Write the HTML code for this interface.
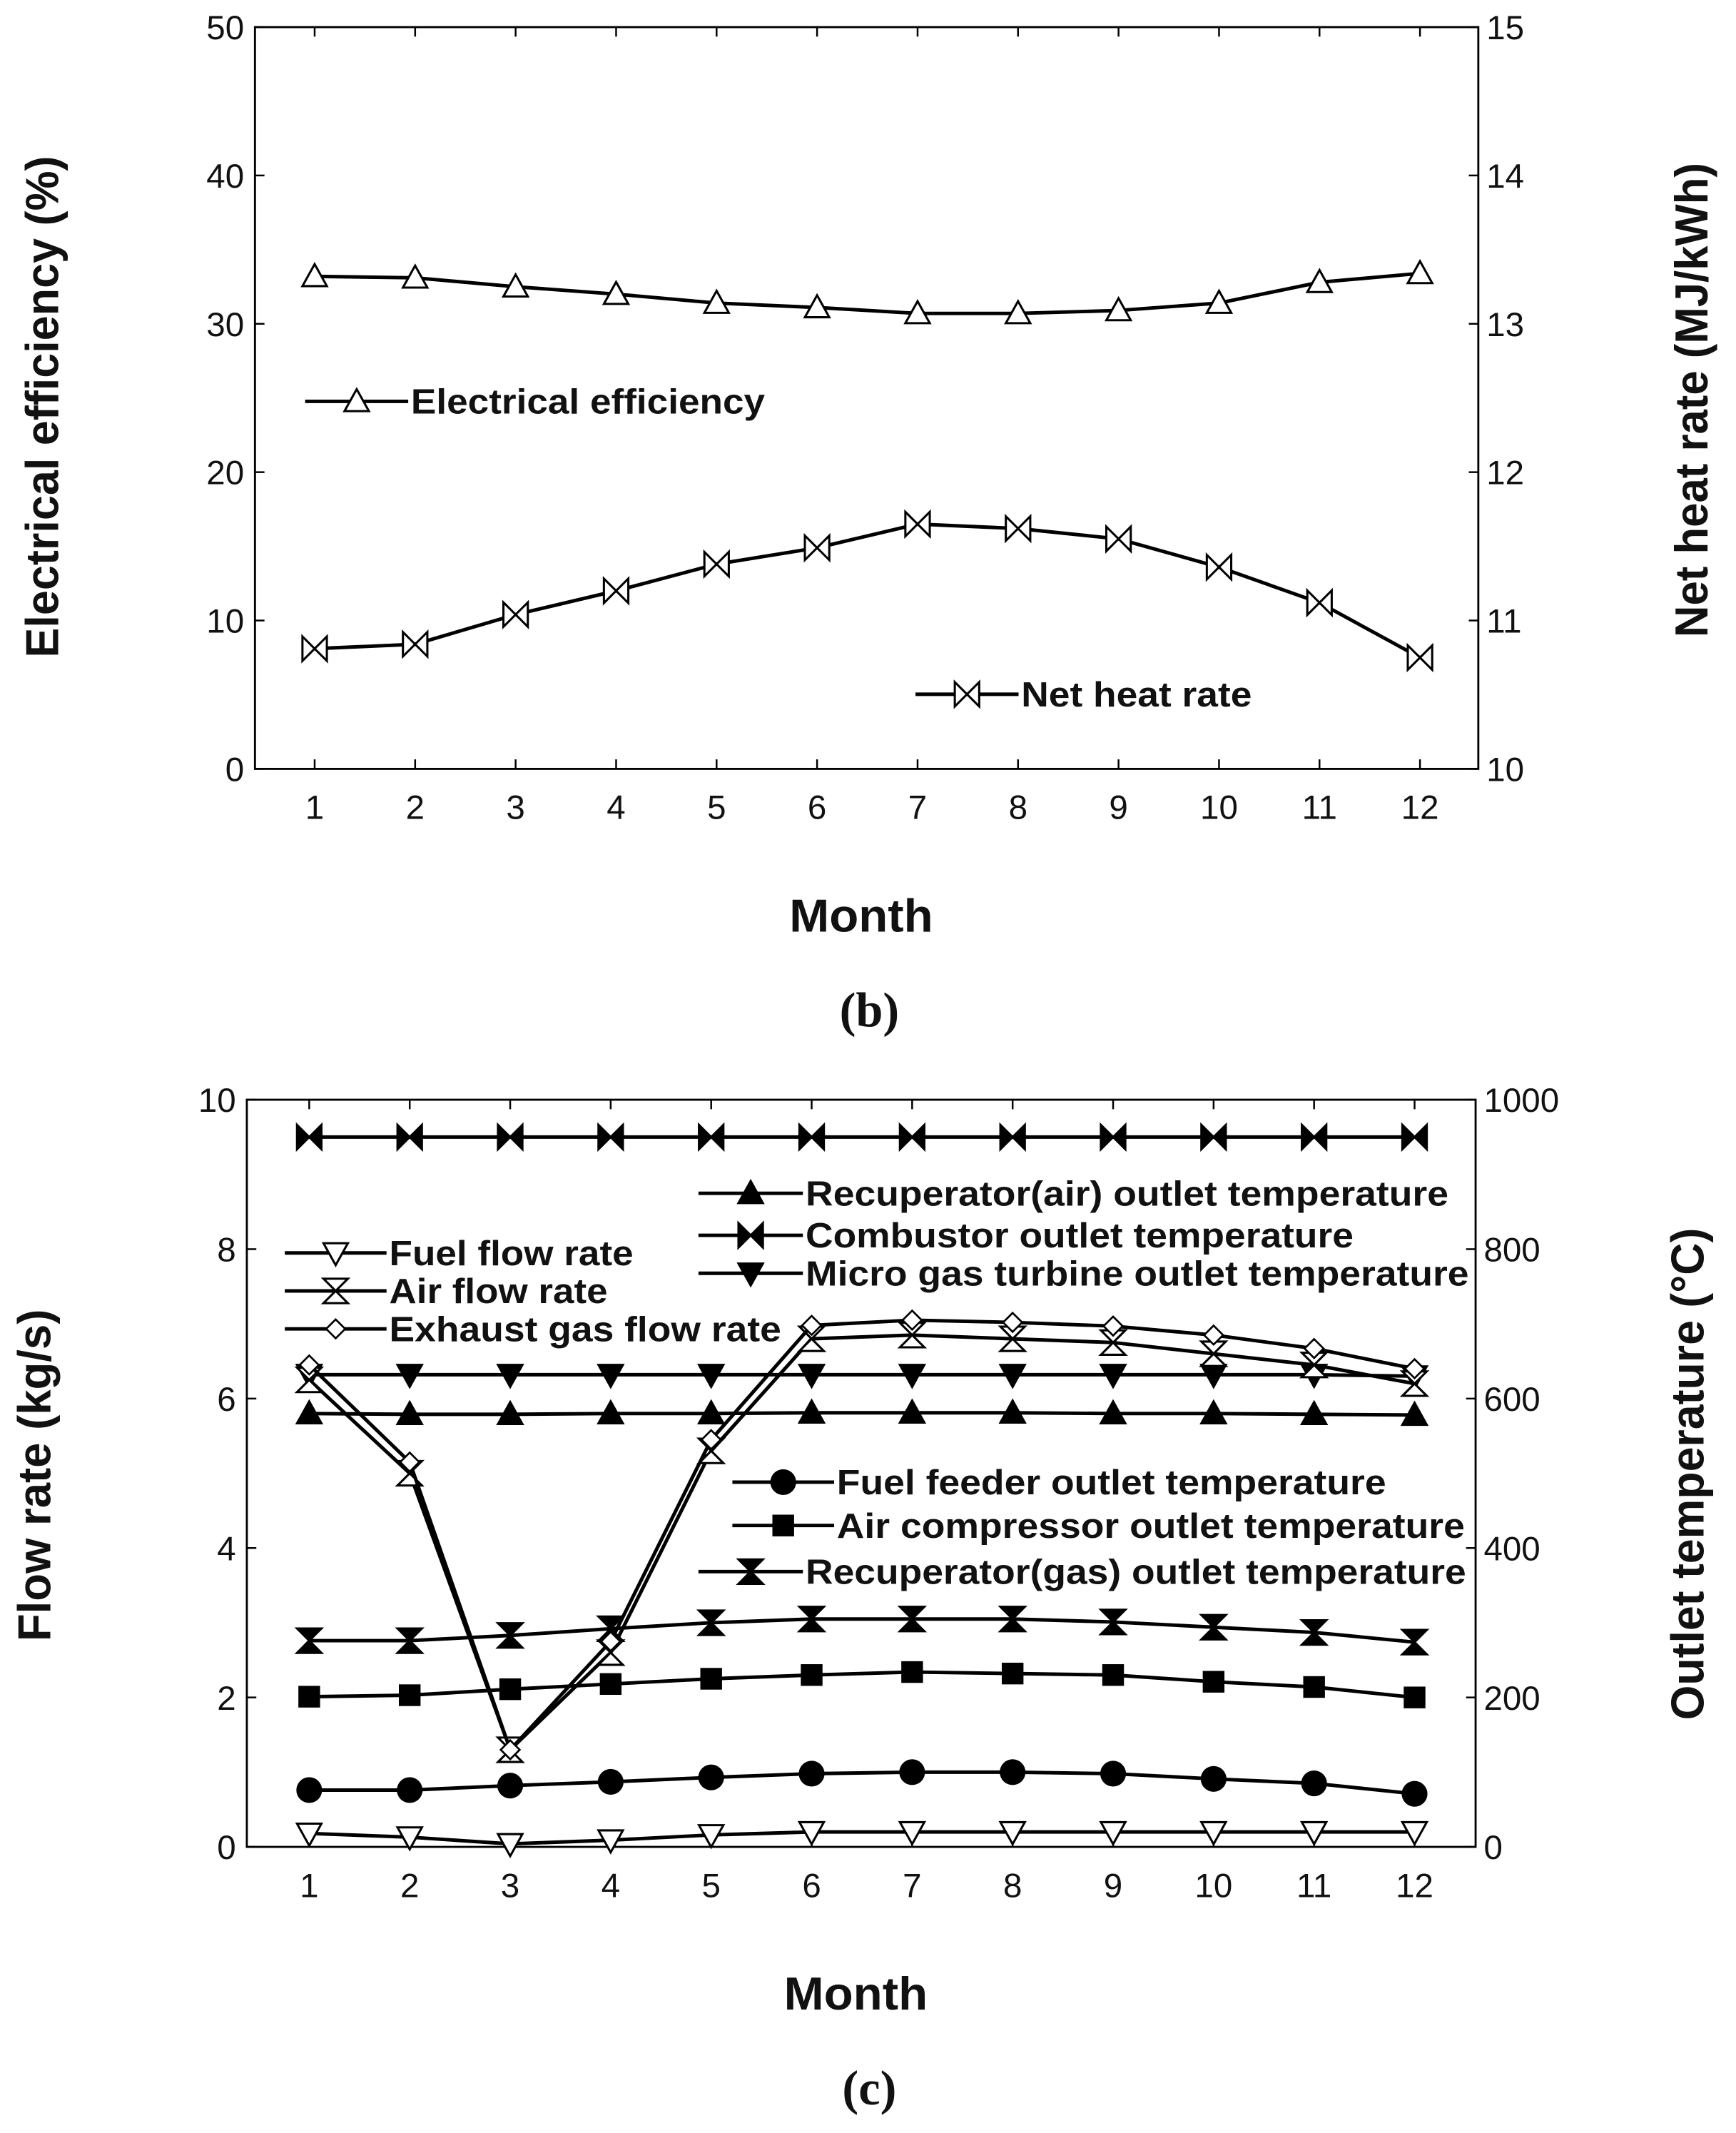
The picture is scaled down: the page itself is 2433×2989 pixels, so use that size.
<!DOCTYPE html>
<html><head><meta charset="utf-8"><style>
html,body{margin:0;padding:0;background:#fff}
svg{display:block}
text{font-family:"Liberation Sans",sans-serif;fill:#111}
</style></head><body>
<svg id="chart" width="2433" height="2989" viewBox="0 0 1280 1573" preserveAspectRatio="none" xmlns="http://www.w3.org/2000/svg"></svg>
<script>
const months=[1,2,3,4,5,6,7,8,9,10,11,12];
const effVals=[33.2,33.1,32.5,32.0,31.4,31.1,30.7,30.7,30.9,31.4,32.8,33.4];
const heatVals=[10.81,10.84,11.04,11.20,11.38,11.49,11.65,11.62,11.55,11.36,11.12,10.75];
const fuelFlow=[0.18,0.13,0.04,0.09,0.16,0.2,0.2,0.2,0.2,0.2,0.2,0.2];
const airFlow=[6.25,5.0,1.3,2.6,5.3,6.8,6.85,6.8,6.75,6.6,6.45,6.2];
const exhaustFlow=[6.45,5.15,1.3,2.75,5.45,6.98,7.05,7.02,6.97,6.85,6.67,6.4];
const combustorT=[950,950,950,950,950,950,950,950,950,950,950,950];
const recupAirT=[580,579,579,580,580,581,581,581,580,580,579,578];
const mgtT=[632,632,632,632,632,632,632,632,632,632,632,630];
const recupGasT=[276,276,283,292,300,305,305,305,301,294,287,274];
const compT=[201,203,211,218,225,230,234,232,230,221,214,200];
const feederT=[76,76,82,87,93,98,100,100,98,91,85,71];
const leftTicksB=[0,10,20,30,40,50];
const rightTicksB=[10,11,12,13,14,15];
const leftTicksC=[0,2,4,6,8,10];
const rightTicksC=[0,200,400,600,800,1000];

const svg=document.getElementById('chart');
const NS='http://www.w3.org/2000/svg';
function el(tag,attrs,parent){const e=document.createElementNS(NS,tag);for(const k in attrs)e.setAttribute(k,attrs[k]);(parent||svg).appendChild(e);return e;}
function txt(s,x,y,attrs,parent){const e=el('text',Object.assign({x:x,y:y},attrs),parent);e.textContent=s;return e;}

function marker(g,type,x,y){
  const s=9;const st={stroke:'#000','stroke-width':1.6};
  if(type==='tri'){el('polygon',Object.assign({points:`${x},${y-s} ${x-s},${y+s*0.8} ${x+s},${y+s*0.8}`,fill:'#fff'},st),g);}
  else if(type==='triF'){el('polygon',Object.assign({points:`${x},${y-s} ${x-s},${y+s*0.8} ${x+s},${y+s*0.8}`,fill:'#000'},st),g);}
  else if(type==='dtri'){el('polygon',Object.assign({points:`${x},${y+s} ${x-s},${y-s*0.8} ${x+s},${y-s*0.8}`,fill:'#fff'},st),g);}
  else if(type==='dtriF'){el('polygon',Object.assign({points:`${x},${y+s} ${x-s},${y-s*0.8} ${x+s},${y-s*0.8}`,fill:'#000'},st),g);}
  else if(type==='bowX'){el('polygon',Object.assign({points:`${x-s},${y-s} ${x+s},${y+s} ${x+s},${y-s} ${x-s},${y+s}`,fill:'#fff'},st),g);}
  else if(type==='bowF'){el('polygon',Object.assign({points:`${x-s},${y-s} ${x},${y} ${x-s},${y+s}`,fill:'#000'},st),g);el('polygon',Object.assign({points:`${x+s},${y-s} ${x},${y} ${x+s},${y+s}`,fill:'#000'},st),g);}
  else if(type==='hourO'){el('polygon',Object.assign({points:`${x-s},${y-s} ${x+s},${y-s} ${x-s},${y+s} ${x+s},${y+s}`,fill:'#fff'},st),g);}
  else if(type==='hourF'){el('polygon',Object.assign({points:`${x-s},${y-s} ${x+s},${y-s} ${x},${y}`,fill:'#000'},st),g);el('polygon',Object.assign({points:`${x-s},${y+s} ${x+s},${y+s} ${x},${y}`,fill:'#000'},st),g);}
  else if(type==='dia'){el('polygon',Object.assign({points:`${x},${y-7} ${x+7},${y} ${x},${y+7} ${x-7},${y}`,fill:'#fff','stroke-width':1.4,stroke:'#000'}),g);}
  else if(type==='circF'){el('circle',{cx:x,cy:y,r:9.5,fill:'#000'},g);}
  else if(type==='sqF'){el('rect',{x:x-8,y:y-8,width:16,height:16,fill:'#000'},g);}
}
function series(name,vals,xf,yf,type){
  const g=el('g',{});
  
  
  el('polyline',{points:vals.map((v,i)=>xf(months[i])+','+yf(v)).join(' '),fill:'none',stroke:'#000','stroke-width':2.6},g);
  vals.forEach((v,i)=>marker(g,type,xf(months[i]),yf(v)));
}
function legend(name,label,x1,x2,y,type,len){
  const g=el('g',{});
  
  
  el('line',{x1:x1,x2:x2,y1:y,y2:y,stroke:'#000','stroke-width':2.6},g);
  marker(g,type,(x1+x2)/2,y);
  txt(label,x2+2,y+9,{'font-size':26,'font-weight':'bold',textLength:len,lengthAdjust:'spacingAndGlyphs'},g);
}
function axesFrame(name,L,R,T,B,xf,lt,lf,rt,rf){
  const g=el('g',{});
  
  
  el('rect',{x:L,y:T,width:R-L,height:B-T,fill:'none',stroke:'#000','stroke-width':1.5},g);
  months.forEach(m=>{const x=xf(m);el('line',{x1:x,x2:x,y1:B,y2:B-7,stroke:'#000','stroke-width':1.3},g);el('line',{x1:x,x2:x,y1:T,y2:T+7,stroke:'#000','stroke-width':1.3},g);txt(String(m),x,B+37,{'font-size':25,'text-anchor':'middle'},g);});
  lt.forEach(v=>{const y=lf(v);el('line',{x1:L,x2:L+7,y1:y,y2:y,stroke:'#000','stroke-width':1.3},g);txt(String(v),L-8,y+9,{'font-size':25,'text-anchor':'end'},g);});
  rt.forEach(v=>{const y=rf(v);el('line',{x1:R,x2:R-7,y1:y,y2:y,stroke:'#000','stroke-width':1.3},g);txt(String(v),R+6,y+9,{'font-size':25},g);});
}
function title(name,s,x,y,len,rot){
  const a={'font-size':34,'font-weight':'bold','text-anchor':'middle',textLength:len,lengthAdjust:'spacingAndGlyphs',};
  if(rot){a.transform=`translate(${x},${y}) rotate(-90)`;return txt(s,0,0,a);}
  return txt(s,x,y,a);
}
// Chart b
const bx=m=>232+(m-1)*(1047-232)/11;
const by=v=>567-v*(547/50);
const byR=v=>567-(v-10)*(547/5);
axesFrame('chart-b-axes',188,1090,20,567,bx,leftTicksB,by,rightTicksB,byR);
series('series-electrical-efficiency',effVals,bx,by,'tri');
series('series-net-heat-rate',heatVals,bx,byR,'bowX');
legend('legend-electrical-efficiency','Electrical efficiency',225,301,296,'tri',261);
legend('legend-net-heat-rate','Net heat rate',675,751,512,'bowX',170);
title('chart-b-x-title','Month',635,687,106,false);
title('chart-b-left-title','Electrical efficiency (%)',43,300,370,true);
title('chart-b-right-title','Net heat rate (MJ/kWh)',1259,295,350,true);
txt('(b)',641,757,{'font-size':36,'font-weight':'bold','text-anchor':'middle',style:'font-family:"Liberation Serif",serif',});
// Chart c
const cx=m=>228+(m-1)*(1043-228)/11;
const cy=v=>1362-v*(551/10);
const cyR=v=>1362-v*(551/1000);
axesFrame('chart-c-axes',182,1088,811,1362,cx,leftTicksC,cy,rightTicksC,cyR);
series('series-combustor-outlet-temp',combustorT,cx,cyR,'bowF');
series('series-recuperator-air-outlet-temp',recupAirT,cx,cyR,'triF');
series('series-mgt-outlet-temp',mgtT,cx,cyR,'dtriF');
series('series-recuperator-gas-outlet-temp',recupGasT,cx,cyR,'hourF');
series('series-air-compressor-outlet-temp',compT,cx,cyR,'sqF');
series('series-fuel-feeder-outlet-temp',feederT,cx,cyR,'circF');
series('series-fuel-flow-rate',fuelFlow,cx,cy,'dtri');
series('series-air-flow-rate',airFlow,cx,cy,'hourO');
series('series-exhaust-gas-flow-rate',exhaustFlow,cx,cy,'dia');
legend('legend-recuperator-air','Recuperator(air) outlet temperature',515,592,880,'triF',474);
legend('legend-combustor','Combustor outlet temperature',515,592,911,'bowF',404);
legend('legend-mgt','Micro gas turbine outlet temperature',515,592,939,'dtriF',489);
legend('legend-fuel-flow','Fuel flow rate',210,285,924,'dtri',180);
legend('legend-air-flow','Air flow rate',210,285,952,'hourO',161);
legend('legend-exhaust-flow','Exhaust gas flow rate',210,285,980,'dia',289);
legend('legend-fuel-feeder','Fuel feeder outlet temperature',540,615,1093,'circF',405);
legend('legend-air-compressor','Air compressor outlet temperature',540,615,1125,'sqF',463);
legend('legend-recuperator-gas','Recuperator(gas) outlet temperature',515,592,1159,'hourF',487);
title('chart-c-x-title','Month',631,1482,106,false);
title('chart-c-left-title','Flow rate (kg/s)',37,1088,245,true);
title('chart-c-right-title','Outlet temperature (°C)',1256,1087,363,true);
txt('(c)',641,1552,{'font-size':36,'font-weight':'bold','text-anchor':'middle',style:'font-family:"Liberation Serif",serif',});
</script>
</body></html>
